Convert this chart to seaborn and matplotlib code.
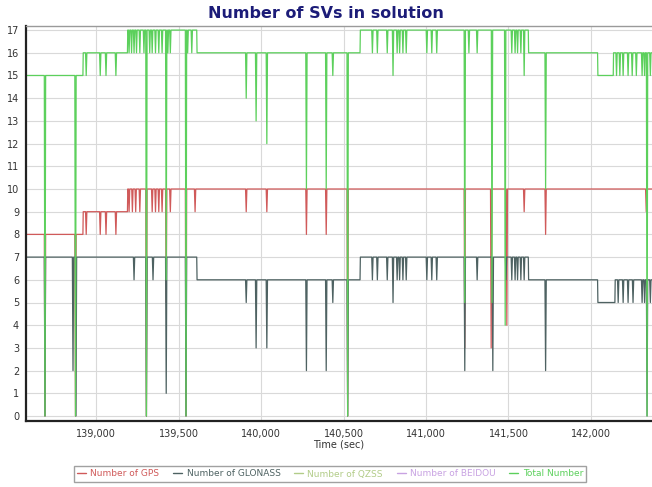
import numpy as np
import pandas as pd
import matplotlib
matplotlib.use("Agg")
import matplotlib.pyplot as plt
from matplotlib.lines import Line2D
from matplotlib.ticker import MultipleLocator, FuncFormatter
import seaborn as sns

# ---- satellite counts: level changes and single-epoch spikes (time in s) ----
T_START, T_END = 138575, 142370

gps_step_t = [138575, 138920, 139190]
gps_step_v = [8, 9, 10]
gps_spike_t = [138690, 138875, 138940, 139025, 139060, 139120,
               139200, 139220, 139240, 139265, 139305, 139340, 139360,
               139380, 139400, 139425, 139450, 139545, 139600,
               139910, 140035, 140275, 140395, 140525,
               141235, 141395, 141490, 141595, 141725, 142335]
gps_spike_v = [0, 0, 8, 8, 8, 8,
               9, 9, 9, 9, 0, 9, 9,
               9, 9, 5, 9, 0, 9,
               9, 9, 8, 8, 0,
               3, 3, 4, 9, 8, 9]

glo_step_t = [138575, 139610, 140600, 141620, 142040, 142145]
glo_step_v = [7, 6, 7, 6, 5, 6]
glo_spike_t = [138690, 138860, 138878, 139230, 139305, 139345, 139425, 139545,
               139910, 139970, 140035, 140275, 140395, 140435, 140525,
               140675, 140705, 140765, 140800, 140825, 140840, 140860, 140880,
               141005, 141035, 141065, 141235, 141310, 141405, 141485,
               141520, 141540, 141555, 141575, 141595, 141725,
               142165, 142195, 142225, 142255, 142310, 142325, 142340, 142360]
glo_spike_v = [0, 2, 0, 6, 0, 6, 1, 0,
               5, 3, 3, 2, 2, 5, 0,
               6, 6, 6, 5, 6, 6, 6, 6,
               6, 6, 6, 2, 6, 2, 6,
               6, 6, 6, 6, 6, 2,
               5, 5, 5, 5, 5, 5, 0, 5]

tot_step_t = [138575, 138920, 139190, 139610, 140600, 141620, 142040, 142135]
tot_step_v = [15, 16, 17, 16, 17, 16, 15, 16]
tot_spike_t = [138690, 138875, 138940, 139025, 139060, 139120,
               139200, 139215, 139230, 139245, 139265, 139290, 139305,
               139325, 139340, 139360, 139380, 139400, 139425, 139435,
               139450, 139545, 139555, 139580,
               139910, 139970, 140035, 140275, 140395, 140435, 140525,
               140675, 140705, 140765, 140800, 140825, 140840, 140860, 140880,
               141005, 141035, 141065, 141235, 141260, 141310, 141400, 141480,
               141520, 141540, 141555, 141575, 141595, 141725,
               142155, 142175, 142195, 142225, 142250, 142275, 142310,
               142325, 142340, 142360]
tot_spike_v = [0, 0, 15, 15, 15, 15,
               16, 16, 16, 16, 16, 16, 0,
               16, 16, 16, 16, 16, 6, 16,
               16, 0, 16, 16,
               14, 13, 12, 10, 10, 15, 0,
               16, 16, 16, 15, 16, 16, 16, 16,
               16, 16, 16, 5, 16, 16, 5, 4,
               16, 16, 16, 16, 15, 10,
               15, 15, 15, 15, 15, 15, 15,
               15, 0, 15]

series_names = ["Number of GPS", "Number of GLONASS", "Number of QZSS",
                "Number of BEIDOU", "Total Number"]
series_colors = ["#d05a5a", "#4e6262", "#b2cc88", "#c8a2e2", "#5cd05c"]
x_ticks = [139000, 139500, 140000, 140500, 141000, 141500, 142000]


def build_trace(step_t, step_v, spike_t, spike_v, t_end, half=4.0):
    """Turn level changes and one-epoch spikes into polyline vertices."""
    step_t = np.asarray(step_t, float)

    def level(t):
        i = np.searchsorted(step_t, t, side="right") - 1
        return step_v[max(i, 0)]

    pts = [(step_t[0], step_v[0])]
    events = [(t, 0, v) for t, v in zip(step_t[1:], step_v[1:])]
    events += [(t, 1, v) for t, v in zip(spike_t, spike_v)]
    events.sort()
    for t, kind, v in events:
        if kind == 0:
            pts.append((t, level(t - 1e-6)))
            pts.append((t + 2, v))
        else:
            b = level(t)
            pts += [(t - half, b), (t, v), (t + half, b)]
    pts.append((t_end, level(t_end)))
    return pts


frames = []
for name, args in [("Number of GPS", (gps_step_t, gps_step_v, gps_spike_t, gps_spike_v)),
                   ("Number of GLONASS", (glo_step_t, glo_step_v, glo_spike_t, glo_spike_v)),
                   ("Total Number", (tot_step_t, tot_step_v, tot_spike_t, tot_spike_v))]:
    pts = build_trace(*args, T_END)
    df = pd.DataFrame(pts, columns=["time", "count"])
    df["series"] = name
    frames.append(df)
data = pd.concat(frames, ignore_index=True)

sns.set_style("white")
plt.rcParams["font.family"] = ["DejaVu Sans"]

fig = plt.figure(figsize=(6.52, 4.87), dpi=100)
ax = fig.add_axes([26 / 652, 1 - 421 / 487, 1 - 26 / 652, 395 / 487])

palette = dict(zip(series_names, series_colors))
sns.lineplot(data=data, x="time", y="count", hue="series", palette=palette,
             estimator=None, sort=False, units="series", legend=False,
             linewidth=0.9, ax=ax)

ax.set_xlim(T_START, T_END)
ax.set_ylim(-0.22, 17.18)
ax.set_yticks(range(0, 18))
ax.set_xticks(x_ticks)
ax.xaxis.set_minor_locator(MultipleLocator(100))
ax.yaxis.set_minor_locator(MultipleLocator(0.25))
ax.xaxis.set_major_formatter(FuncFormatter(lambda v, p: f"{int(v):,}"))
ax.grid(True, which="major", color="#d9d9d9", linewidth=0.8)
ax.set_axisbelow(True)

ax.tick_params(axis="both", which="major", labelsize=7, colors="#333333",
               length=3, width=0.8, direction="out", pad=2)
ax.tick_params(axis="both", which="minor", length=2, width=0.6, color="#555555")
ax.tick_params(axis="x", which="major", pad=3)

for side in ["left", "bottom"]:
    ax.spines[side].set_color("#222222")
    ax.spines[side].set_linewidth(1.6)
ax.spines["top"].set_color("#9a9a9a")
ax.spines["top"].set_linewidth(1.0)
ax.spines["right"].set_visible(False)

ax.set_xlabel("Time (sec)", fontsize=7, color="#333333", labelpad=0)
ax.set_ylabel("")

fig.text(0.5, 1 - 13 / 487, "Number of SVs in solution", ha="center", va="center",
         fontsize=11.5, fontweight="bold", color="#1c1c78")

handles = [Line2D([], [], color=c, linewidth=1.0) for c in series_colors]
leg = fig.legend(handles, series_names, loc="center", ncol=5,
                 bbox_to_anchor=(330 / 652, 1 - 474 / 487), fontsize=6.5,
                 frameon=True, fancybox=False, edgecolor="#8a8a8a",
                 handlelength=1.0, handletextpad=0.5, columnspacing=1.5,
                 borderpad=0.35)
leg.get_frame().set_linewidth(1.0)
for txt, c in zip(leg.get_texts(), series_colors):
    txt.set_color(c)

fig.savefig("out.png", dpi=100)
